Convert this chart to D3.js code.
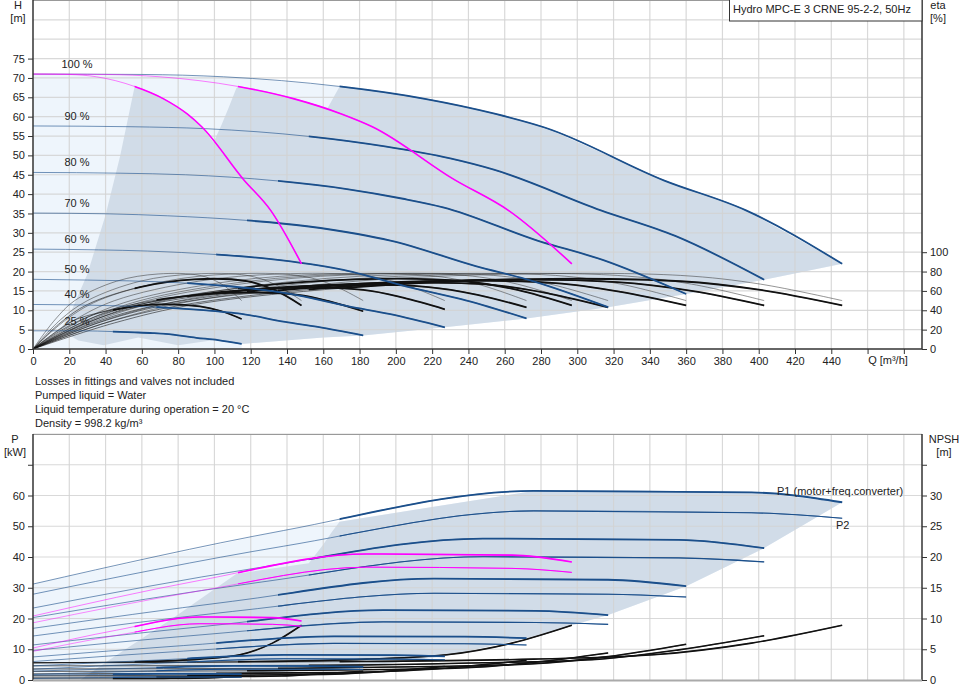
<!DOCTYPE html>
<html>
<head>
<meta charset="utf-8">
<script src="https://cdn.jsdelivr.net/npm/d3@7"></script>
<style>
body { margin: 0; background: #fff; }
svg text { font-family: "Liberation Sans", Arial, sans-serif; fill: #222; }
</style>
</head>
<body>
<svg id="chart" width="966" height="700"></svg>
<script>
// ----- DATA -----
var speedLabels = ["100 %", "90 %", "80 %", "70 %", "60 %", "50 %", "40 %", "25 %"];
var qTicks = [0, 20, 40, 60, 80, 100, 120, 140, 160, 180, 200, 220, 240, 260, 280, 300, 320, 340, 360, 380, 400, 420, 440];
var hTicks = [0, 5, 10, 15, 20, 25, 30, 35, 40, 45, 50, 55, 60, 65, 70, 75];
var etaTicks = [0, 20, 40, 60, 80, 100];
var pTicks = [0, 10, 20, 30, 40, 50, 60];
var npshTicks = [0, 5, 10, 15, 20, 25, 30];

// flow where each curve enters its own operating area (drawn bold from there)
var boldFromQ = [169, 152, 135, 118, 101, 85, 68, 44]; // 3 pumps, 100 % .. 25 %
var boldFromOnePump = 56;
var boldFromTwoPumps = 113;

// head curves, 3 pumps running [Q m3/h, H m]
var head100 = [[0,71],[60,70.9],[105,70.3],[169,67.8],[216,64.6],[255,60.7],[282,57.2],[348,43.5],[393,35.8],[446,22]];
var head90 = [[0,57.6],[54,57.4],[95,56.9],[152,54.9],[194,52.3],[230,49.2],[254,46.3],[313,35.8],[354,29.2],[403,17.9]];
var head80 = [[0,45.6],[48,45.4],[84,45.0],[135,43.4],[173,41.3],[204,38.8],[226,36.6],[278,28.0],[314,23.0],[360,14.2]];
var head70 = [[0,35.1],[42,34.9],[74,34.4],[118,33.2],[151,31.7],[179,29.7],[197,28.0],[244,21.4],[275,17.6],[317,10.8]];
var head60 = [[0,25.8],[36,25.6],[63,25.3],[101,24.4],[130,23.3],[153,21.9],[169,20.6],[209,15.8],[236,12.9],[272,7.9]];
var head50 = [[0,18],[30,17.8],[53,17.6],[85,17.0],[108,16.2],[128,15.2],[141,14.3],[174,11.0],[197,9.0],[227,5.6]];
var head40 = [[0,11.5],[24,11.4],[42,11.2],[68,10.8],[86,10.3],[102,9.7],[113,9.2],[139,7.0],[157,5.7],[182,3.5]];
var head25 = [[0,4.7],[16,4.7],[27,4.7],[44,4.5],[56,4.3],[66,4.1],[73,3.9],[90,2.9],[102,2.3],[115,1.3]];

// 100 % curves with 1 and 2 pumps running
var headOnePump = [[0,71],[20,70.9],[35,70.3],[56,67.8],[72,64.6],[85,60.7],[93,57.4],[116,43.8],[131,35.8],[148,22]];
var headTwoPumps = [[0,71],[40,70.9],[70,70.3],[113,67.8],[144,64.6],[170,60.7],[187,57.4],[232,43.8],[262,35.8],[297,22]];

// pump efficiency [Q, eta %]
var etaPump100 = [[0,0],[45,30],[89,50],[178,70],[268,77.5],[357,76],[401,67],[446,50]];
var etaPump90 = [[0,0],[40,30],[81,50],[161,70],[242,77.5],[322,76],[363,67],[403,50]];
var etaPump80 = [[0,0],[36,30],[72,50],[144,70],[216,77.5],[288,76],[324,67],[360,50]];
var etaPump70 = [[0,0],[32,30],[63,50],[127,70],[190,77.5],[254,76],[285,67],[317,50]];
var etaPump60 = [[0,0],[27,30],[54,50],[109,70],[163,77.5],[218,76],[245,67],[272,50]];
var etaPump50 = [[0,0],[23,30],[45,50],[91,70],[136,77.5],[182,76],[204,67],[227,50]];
var etaPump40 = [[0,0],[18,30],[36,50],[73,70],[109,77.5],[146,76],[164,67],[182,50]];
var etaPump25 = [[0,0],[12,30],[23,50],[46,70],[69,77.5],[92,76],[104,67],[115,50]];
var etaPumpOne = [[0,0],[15,30],[30,50],[59,70],[89,77.5],[118,76],[133,67],[148,50]];
var etaPumpTwo = [[0,0],[30,30],[59,50],[119,70],[178,77.5],[238,76],[267,67],[297,50]];

// total efficiency (motor + converter)
var etaTotal100 = [[0,0],[45,27],[89,46],[178,64],[268,72],[357,70],[401,61],[446,45]];
var etaTotal90 = [[0,0],[40,27],[81,45],[161,63],[242,71],[322,69],[363,60],[403,45]];
var etaTotal80 = [[0,0],[36,27],[72,45],[144,62],[216,70],[288,68],[324,59],[360,45]];
var etaTotal70 = [[0,0],[32,26],[63,43],[127,61],[190,68],[254,66],[285,57],[317,43]];
var etaTotal60 = [[0,0],[27,25],[54,42],[109,59],[163,66],[218,64],[245,56],[272,43]];
var etaTotal50 = [[0,0],[23,24],[45,40],[91,56],[136,63],[182,61],[204,53],[227,41]];
var etaTotal40 = [[0,0],[18,22],[36,37],[73,52],[109,58],[146,56],[164,49],[182,39]];
var etaTotal25 = [[0,0],[12,17],[23,30],[46,41],[69,46],[92,44],[104,39],[115,31]];
var etaTotalOne = [[0,0],[15,27],[30,46],[59,64],[89,72],[118,70],[133,61],[148,45]];
var etaTotalTwo = [[0,0],[30,27],[59,46],[119,64],[178,72],[238,70],[267,61],[297,45]];

// operating area, upper chart [Q, H]
var areaLeftTop = [[15,4.9],[20,8.6],[30,19.4],[40,34.6],[48,49.8],[56,67.7],[72,64.6],[85,60.7],[93,57.4],[99.5,53.3],[104,58],[108,62.5],[112,67.3],[113,67.8],[144,64.6],[162.5,62.3],[166,65.3],[169,67.8]];
var areaLowerTop = [[446,22],[403,17.9],[360,14.2],[317,10.8],[272,7.9],[227,5.6],[182,3.5],[160,3.0],[115,1.3],[100,2.3],[80,1.0],[58,3.0],[39,1.0],[25,2.2]];

// power curves, 3 pumps running [Q, P kW]
var powerP1_100 = [[0,31.2],[138,48.6],[276,61.5],[396,61.0],[446,57.8]];
var powerP1_90 = [[0,23.4],[124,36.5],[248,46.0],[356,45.6],[403,42.9]];
var powerP1_80 = [[0,16.8],[110,25.6],[221,33.0],[317,32.6],[360,30.5]];
var powerP1_70 = [[0,11.4],[97,17.6],[193,22.7],[277,22.5],[317,21.1]];
var powerP1_60 = [[0,7.5],[83,11.2],[166,14.2],[238,14.1],[272,13.6]];
var powerP1_50 = [[0,4.6],[69,6.5],[138,8.2],[198,8.1],[227,7.7]];
var powerP1_40 = [[0,2.9],[55,3.8],[110,4.6],[158,4.5],[182,4.3]];
var powerP1_25 = [[0,1.6],[36,1.8],[72,2.0],[103,2.0],[115,1.9]];

var powerP2_100 = [[0,27.9],[138,43.5],[276,55.0],[396,54.4],[446,52.6]];
var powerP2_90 = [[0,20.3],[124,31.7],[248,40.1],[356,39.7],[403,38.4]];
var powerP2_80 = [[0,14.3],[110,22.3],[221,28.2],[317,27.9],[360,27.0]];
var powerP2_70 = [[0,9.6],[97,14.9],[193,18.9],[277,18.7],[317,18.1]];
var powerP2_60 = [[0,6.0],[83,9.4],[166,11.9],[238,11.8],[272,11.4]];
var powerP2_50 = [[0,3.5],[69,5.4],[138,6.9],[198,6.8],[227,6.6]];
var powerP2_40 = [[0,1.8],[55,2.8],[110,3.5],[158,3.5],[182,3.4]];
var powerP2_25 = [[0,0.5],[36,0.8],[72,1.0],[103,1.0],[115,0.9]];

var powerOnePumpP1 = [[0,10.4],[46,16.2],[92,20.5],[132,20.3],[148,19.2]];
var powerOnePumpP2 = [[0,9.3],[46,14.5],[92,18.3],[132,18.1],[148,17.5]];
var powerTwoPumpsP1 = [[0,20.8],[92,32.4],[184,41.0],[264,40.6],[297,38.4]];
var powerTwoPumpsP2 = [[0,18.6],[92,29.0],[184,36.7],[264,36.3],[297,35.0]];

// NPSH [Q, m]
var npsh100 = [[0,2.8],[180,3.0],[276,3.4],[342,4.1],[396,6.0],[446,8.9]];
var npsh90 = [[0,2.3],[162,2.4],[248,2.8],[308,3.3],[356,4.9],[403,7.2]];
var npsh80 = [[0,1.8],[144,1.9],[221,2.2],[274,2.6],[317,3.8],[360,5.8]];
var npsh70 = [[0,1.4],[126,1.5],[193,1.7],[239,2.0],[277,2.9],[317,4.4]];
var npsh60 = [[0,1.0],[108,1.1],[166,1.2],[205,1.5],[238,2.2],[272,3.2]];
var npsh50 = [[0,0.7],[90,0.75],[138,0.85],[171,1.0],[198,1.5],[227,2.2]];
var npsh40 = [[0,0.45],[72,0.5],[110,0.55],[137,0.65],[158,1.0],[182,1.4]];
var npsh25 = [[0,0.2],[47,0.2],[72,0.23],[89,0.28],[103,0.4],[115,0.6]];
var npshOnePump = [[0,2.8],[60,3.0],[92,3.4],[114,4.1],[132,6.0],[148,8.9]];
var npshTwoPumps = [[0,2.8],[120,3.0],[184,3.4],[228,4.1],[264,6.0],[297,8.9]];

// operating area, lower chart [Q, P]
var areaLeftBottom = [[26,0],[42,6.5],[78,20.5],[112,34.5],[130,36.1],[152,38.0],[160,44.1],[165,48.4],[169,51.5]];
var areaLowerBottom = [[446,57.8],[403,42.9],[360,30.5],[317,21.1],[272,13.6],[227,7.7],[182,4.3],[115,1.9],[80,0.3],[60,0]];

// ----- SCALES -----
var svg = d3.select("#chart");
var xQ = d3.scaleLinear().domain([0, 490]).range([33, 922]);
var yH = d3.scaleLinear().domain([0, 90]).range([349, 0.5]);
var yEta = d3.scaleLinear().domain([0, 360]).range([349, 0.5]);
var yP = d3.scaleLinear().domain([0, 80]).range([680, 434]);
var yN = d3.scaleLinear().domain([0, 40]).range([680, 434]);

var blue = "#1b4f8b", magenta = "#ff00ff";
var lightFill = "#eef5fc", grayFill = "#d1dce8";

function lineFor(yScale, curve) {
    return d3.line()
        .x(function(d) { return xQ(d[0]); })
        .y(function(d) { return yScale(d[1]); })
        .curve(curve || d3.curveMonotoneX);
}

var defs = svg.append("defs");
var clipCount = 0;
// clip that keeps only the part of a curve right of flow q
function fromClip(q) {
    var id = "from" + (clipCount++);
    defs.append("clipPath").attr("id", id).append("rect")
        .attr("x", xQ(q)).attr("y", 0).attr("width", 966).attr("height", 700);
    return "url(#" + id + ")";
}

// thin line everywhere, bold inside its own operating area
function drawCurve(g, gen, c, q0, color, thinW, thinOp, boldW) {
    g.append("path").attr("d", gen(c)).attr("fill", "none")
        .attr("stroke", color).attr("stroke-width", thinW).attr("opacity", thinOp);
    if (q0 !== null) {
        g.append("path").attr("d", gen(c)).attr("fill", "none")
            .attr("clip-path", fromClip(q0))
            .attr("stroke", color).attr("stroke-width", boldW);
    }
}

// ===== UPPER CHART =====
var topChart = svg.append("g");

var lightTop = [[0,0]].concat(head100, areaLowerTop.slice(1, 9), [[115,0]]);
topChart.append("path")
    .attr("d", lineFor(yH, d3.curveLinear)(lightTop) + "Z")
    .attr("fill", lightFill);

var grayTop = areaLeftTop.concat(head100.filter(function(d) { return d[0] > 169; }), areaLowerTop.slice(1));
topChart.append("path").attr("d", lineFor(yH, d3.curveLinear)(grayTop) + "Z").attr("fill", grayFill);

// grid
topChart.selectAll(".vgrid").data(d3.range(20, 481, 20)).enter().append("line")
    .attr("x1", function(d) { return xQ(d); }).attr("x2", function(d) { return xQ(d); })
    .attr("y1", 0).attr("y2", 349)
    .attr("stroke", "#d3d3d3").attr("stroke-width", 1.2).attr("opacity", 0.85);
topChart.selectAll(".hgrid").data(d3.range(5, 91, 5)).enter().append("line")
    .attr("x1", 33).attr("x2", 922)
    .attr("y1", function(d) { return yH(d); }).attr("y2", function(d) { return yH(d); })
    .attr("stroke", "#d3d3d3").attr("stroke-width", 1.2).attr("opacity", 0.85);

// efficiency curves
var etaPumpCurves = [etaPump100, etaPump90, etaPump80, etaPump70, etaPump60, etaPump50, etaPump40, etaPump25, etaPumpOne, etaPumpTwo];
var etaTotalCurves = [etaTotal100, etaTotal90, etaTotal80, etaTotal70, etaTotal60, etaTotal50, etaTotal40, etaTotal25, etaTotalOne, etaTotalTwo];
var etaBoldFrom = boldFromQ.concat([boldFromOnePump, boldFromTwoPumps]);
var etaLine = lineFor(yEta, d3.curveCatmullRom.alpha(0.5));

etaPumpCurves.forEach(function(c) {
    drawCurve(topChart, etaLine, c, null, "#333", 0.7, 0.75, 0);
});
etaTotalCurves.forEach(function(c, i) {
    drawCurve(topChart, etaLine, c, etaBoldFrom[i], "#111", 0.8, 0.7, 1.8);
});

// head curves
var headCurves = [head100, head90, head80, head70, head60, head50, head40, head25];
var hLine = lineFor(yH);
headCurves.forEach(function(c, i) {
    drawCurve(topChart, hLine, c, boldFromQ[i], blue, 1, 0.6, 1.8);
});
drawCurve(topChart, hLine, headOnePump, boldFromOnePump, magenta, 1, 0.5, 1.6);
drawCurve(topChart, hLine, headTwoPumps, boldFromTwoPumps, magenta, 1, 0.5, 1.6);

// speed labels
topChart.selectAll(".slabel").data(headCurves).enter().append("text")
    .attr("x", 77).attr("y", function(d) { return yH(d[0][1]) - 6; })
    .attr("text-anchor", "middle").attr("font-size", 11)
    .text(function(d, i) { return speedLabels[i]; });

// axes
topChart.append("line").attr("x1", 33).attr("x2", 922).attr("y1", 0.5).attr("y2", 0.5).attr("stroke", "#999");
var axL = topChart.append("g").attr("transform", "translate(33,0)")
    .call(d3.axisLeft(yH).tickValues(hTicks).tickSize(5).tickPadding(3));
var axB = topChart.append("g").attr("transform", "translate(0,349)")
    .call(d3.axisBottom(xQ).tickValues(qTicks.concat([460, 480])).tickSize(5).tickPadding(3)
        .tickFormat(function(d) { return d > 440 ? "" : d; }));
var axR = topChart.append("g").attr("transform", "translate(922,0)")
    .call(d3.axisRight(yEta).tickValues(etaTicks).tickSize(5).tickPadding(3));
[axL, axB, axR].forEach(function(a) {
    a.select(".domain").remove();
    a.selectAll("line").attr("stroke", "#333");
    a.selectAll("text").attr("font-size", 11).attr("font-family", "Liberation Sans, Arial, sans-serif").attr("fill", "#222");
});
topChart.append("line").attr("x1", 33).attr("x2", 33).attr("y1", 0).attr("y2", 349).attr("stroke", "#333").attr("stroke-width", 1.5);
topChart.append("line").attr("x1", 922).attr("x2", 922).attr("y1", 0).attr("y2", 349).attr("stroke", "#333").attr("stroke-width", 1.5);
topChart.append("line").attr("x1", 33).attr("x2", 922).attr("y1", 349).attr("y2", 349).attr("stroke", "#333").attr("stroke-width", 1.5);

topChart.append("text").attr("x", 18).attr("y", 9).attr("text-anchor", "middle").attr("font-size", 11).text("H");
topChart.append("text").attr("x", 18).attr("y", 22).attr("text-anchor", "middle").attr("font-size", 11).text("[m]");
topChart.append("text").attr("x", 938).attr("y", 9).attr("text-anchor", "middle").attr("font-size", 11).text("eta");
topChart.append("text").attr("x", 938).attr("y", 22).attr("text-anchor", "middle").attr("font-size", 11).text("[%]");
topChart.append("text").attr("x", 888).attr("y", 364).attr("text-anchor", "middle").attr("font-size", 11).text("Q [m³/h]");

topChart.append("rect").attr("x", 729.5).attr("y", -1).attr("width", 192.5).attr("height", 22)
    .attr("fill", "#fff").attr("stroke", "#333");
topChart.append("text").attr("x", 733).attr("y", 13).attr("font-size", 11).text("Hydro MPC-E 3 CRNE 95-2-2, 50Hz");

// notes
var notes = ["Losses in fittings and valves not included", "Pumped liquid = Water",
    "Liquid temperature during operation = 20 °C", "Density = 998.2 kg/m³"];
svg.selectAll(".note").data(notes).enter().append("text")
    .attr("x", 35).attr("y", function(d, i) { return 385 + i * 14; })
    .attr("font-size", 11).text(function(d) { return d; });

// ===== LOWER CHART =====
var botChart = svg.append("g");

var lightBottom = [[0,0]].concat(powerP1_100, areaLowerBottom.slice(1));
botChart.append("path").attr("d", lineFor(yP, d3.curveLinear)(lightBottom) + "Z").attr("fill", lightFill);

var grayBottom = areaLeftBottom.concat(powerP1_100.filter(function(d) { return d[0] > 169; }), areaLowerBottom.slice(1));
botChart.append("path").attr("d", lineFor(yP, d3.curveLinear)(grayBottom) + "Z").attr("fill", grayFill);

botChart.selectAll(".vgrid").data(d3.range(20, 481, 20)).enter().append("line")
    .attr("x1", function(d) { return xQ(d); }).attr("x2", function(d) { return xQ(d); })
    .attr("y1", 434).attr("y2", 680)
    .attr("stroke", "#d3d3d3").attr("stroke-width", 1.2).attr("opacity", 0.85);
botChart.selectAll(".hgrid").data(d3.range(10, 81, 10)).enter().append("line")
    .attr("x1", 33).attr("x2", 922)
    .attr("y1", function(d) { return yP(d); }).attr("y2", function(d) { return yP(d); })
    .attr("stroke", "#d3d3d3").attr("stroke-width", 1.2).attr("opacity", 0.85);

var pLine = lineFor(yP);
var nLine = lineFor(yN);

var npshCurves = [npsh100, npsh90, npsh80, npsh70, npsh60, npsh50, npsh40, npsh25, npshOnePump, npshTwoPumps];
npshCurves.forEach(function(c, i) {
    drawCurve(botChart, nLine, c, etaBoldFrom[i], "#111", 0.9, 0.75, 1.6);
});

var p2Curves = [powerP2_100, powerP2_90, powerP2_80, powerP2_70, powerP2_60, powerP2_50, powerP2_40, powerP2_25];
var p1Curves = [powerP1_100, powerP1_90, powerP1_80, powerP1_70, powerP1_60, powerP1_50, powerP1_40, powerP1_25];
p2Curves.forEach(function(c, i) {
    drawCurve(botChart, pLine, c, boldFromQ[i], blue, 1, 0.6, 1.1);
});
p1Curves.forEach(function(c, i) {
    drawCurve(botChart, pLine, c, boldFromQ[i], blue, 1, 0.6, 1.8);
});
drawCurve(botChart, pLine, powerOnePumpP2, boldFromOnePump, magenta, 1, 0.45, 1);
drawCurve(botChart, pLine, powerTwoPumpsP2, boldFromTwoPumps, magenta, 1, 0.45, 1);
drawCurve(botChart, pLine, powerOnePumpP1, boldFromOnePump, magenta, 1, 0.5, 1.6);
drawCurve(botChart, pLine, powerTwoPumpsP1, boldFromTwoPumps, magenta, 1, 0.5, 1.6);

botChart.append("text").attr("x", 777).attr("y", 495).attr("font-size", 11).attr("fill", "#2f62a0").text("P1 (motor+freq.converter)");
botChart.append("text").attr("x", 836).attr("y", 529).attr("font-size", 11).attr("fill", "#2f62a0").text("P2");

botChart.append("line").attr("x1", 33).attr("x2", 922).attr("y1", 434.5).attr("y2", 434.5).attr("stroke", "#999");
var bL = botChart.append("g").attr("transform", "translate(33,0)")
    .call(d3.axisLeft(yP).tickValues(pTicks.concat([70])).tickSize(5).tickPadding(3)
        .tickFormat(function(d) { return d > 60 ? "" : d; }));
var bR = botChart.append("g").attr("transform", "translate(922,0)")
    .call(d3.axisRight(yN).tickValues(npshTicks.concat([35])).tickSize(5).tickPadding(3)
        .tickFormat(function(d) { return d > 30 ? "" : d; }));
[bL, bR].forEach(function(a) {
    a.select(".domain").remove();
    a.selectAll("line").attr("stroke", "#333");
    a.selectAll("text").attr("font-size", 11).attr("font-family", "Liberation Sans, Arial, sans-serif").attr("fill", "#222");
});
botChart.append("line").attr("x1", 33).attr("x2", 33).attr("y1", 434).attr("y2", 681).attr("stroke", "#333").attr("stroke-width", 1.5);
botChart.append("line").attr("x1", 922).attr("x2", 922).attr("y1", 434).attr("y2", 681).attr("stroke", "#333").attr("stroke-width", 1.5);
botChart.append("line").attr("x1", 33).attr("x2", 922).attr("y1", 680.5).attr("y2", 680.5).attr("stroke", "#aaa").attr("stroke-width", 2);

botChart.append("text").attr("x", 15).attr("y", 443).attr("text-anchor", "middle").attr("font-size", 11).text("P");
botChart.append("text").attr("x", 15).attr("y", 456).attr("text-anchor", "middle").attr("font-size", 11).text("[kW]");
botChart.append("text").attr("x", 944).attr("y", 443).attr("text-anchor", "middle").attr("font-size", 11).text("NPSH");
botChart.append("text").attr("x", 944).attr("y", 456).attr("text-anchor", "middle").attr("font-size", 11).text("[m]");
</script>
</body>
</html>
